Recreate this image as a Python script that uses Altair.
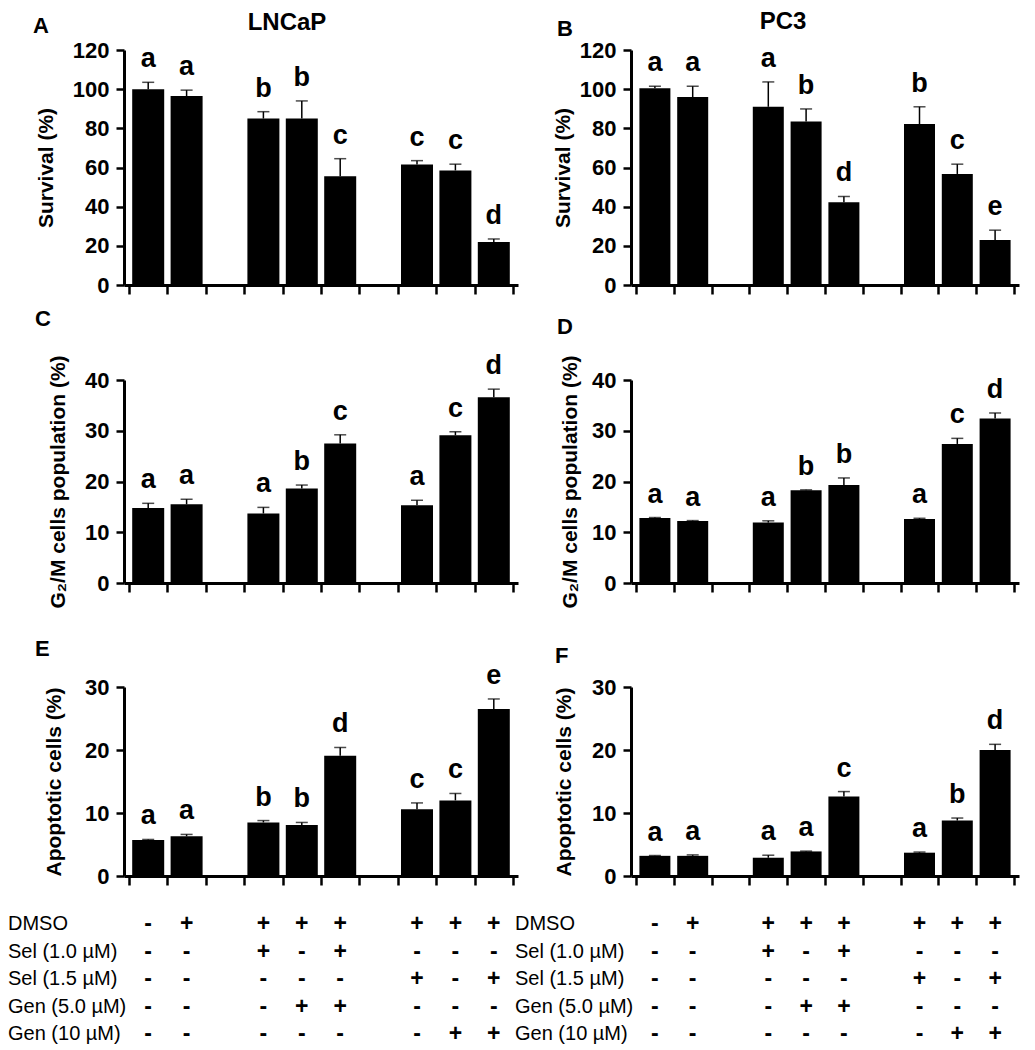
import altair as alt
import pandas as pd

FONT = "Liberation Sans"

# ---------------- data ----------------
positions = [1, 2, 4, 5, 6, 8, 9, 10]
boundaries = [0.5 + i for i in range(11)]

cell_lines = ["LNCaP", "PC3"]
panel_letters = ["A", "B", "C", "D", "E", "F"]
y_titles = ["Survival (%)", "G\u2082/M cells population (%)", "Apoptotic cells (%)"]
y_max = [120, 40, 30]
y_step = [20, 10, 10]

# Survival (%)
A_mean = [100, 96.5, 85, 85, 55.5, 61.5, 58.5, 22]
A_err = [3.5, 3, 3.5, 9, 9, 2, 3.2, 1.5]
A_sig = ["a", "a", "b", "b", "c", "c", "c", "d"]
B_mean = [100.5, 96, 91, 83.5, 42.2, 82.2, 56.7, 23]
B_err = [1, 5.5, 12.7, 6.4, 3, 8.8, 5, 5]
B_sig = ["a", "a", "a", "b", "d", "b", "c", "e"]
# G2/M cells population (%)
C_mean = [14.8, 15.5, 13.7, 18.6, 27.5, 15.3, 29.1, 36.6]
C_err = [0.9, 1.0, 1.2, 0.7, 1.7, 1.0, 0.7, 1.6]
C_sig = ["a", "a", "a", "b", "c", "a", "c", "d"]
D_mean = [12.8, 12.2, 11.9, 18.3, 19.3, 12.6, 27.4, 32.4]
D_err = [0.1, 0.1, 0.35, 0.05, 1.4, 0.15, 1.1, 1.1]
D_sig = ["a", "a", "a", "b", "b", "a", "c", "d"]
# Apoptotic cells (%)
E_mean = [5.7, 6.3, 8.5, 8.1, 19.1, 10.6, 12.0, 26.5]
E_err = [0.1, 0.3, 0.3, 0.4, 1.3, 1.0, 1.1, 1.6]
E_sig = ["a", "a", "b", "b", "d", "c", "c", "e"]
F_mean = [3.2, 3.2, 2.9, 3.9, 12.6, 3.7, 8.8, 20.0]
F_err = [0.05, 0.15, 0.4, 0.05, 0.8, 0.1, 0.4, 0.9]
F_sig = ["a", "a", "a", "a", "c", "a", "b", "d"]

# Treatment table
row_names = ["DMSO", "Sel (1.0 \u00b5M)", "Sel (1.5 \u00b5M)", "Gen (5.0 \u00b5M)", "Gen (10 \u00b5M)"]
DMSO = ["-", "+", "+", "+", "+", "+", "+", "+"]
Sel10 = ["-", "-", "+", "-", "+", "-", "-", "-"]
Sel15 = ["-", "-", "-", "-", "-", "+", "-", "+"]
Gen5 = ["-", "-", "-", "+", "+", "-", "-", "-"]
Gen10 = ["-", "-", "-", "-", "-", "-", "+", "+"]
table_rows = [DMSO, Sel10, Sel15, Gen5, Gen10]

# ---------------- layout (style) ----------------
heights = [235, 203, 198]
tops = [0, 0, 9]
widths = [394, 388]
bar_widths = [32, 31]


def panel(mean, err, sig, letter, letter_xy, r, c, title_pad, head=None, head_xy=None, table=False):
    height = heights[r]
    width = widths[c]
    df = pd.DataFrame({"pos": positions, "mean": mean, "err": err, "sig": sig})
    df["top"] = df["mean"] + df["err"]

    yvals = list(range(0, y_max[r] + 1, y_step[r]))
    xs = alt.Scale(domain=[0.5, 10.5], nice=False, zero=False)
    ys = alt.Scale(domain=[0, y_max[r]], range=[height, tops[r]], nice=False)
    xaxis = alt.Axis(values=boundaries, tickCount=len(boundaries), labels=False, title=None,
                     grid=False, tickSize=9, tickWidth=2.5, tickColor="black",
                     domainColor="black", domainWidth=3)
    yaxis = alt.Axis(values=yvals, tickCount=len(yvals), title=y_titles[r],
                     grid=False, tickSize=8, tickWidth=2.5, tickColor="black",
                     domainColor="black", domainWidth=3,
                     labelFont=FONT, labelFontSize=22, labelFontWeight="bold",
                     labelColor="black", labelPadding=7, labelOverlap=False,
                     titleFont=FONT, titleFontSize=21, titleFontWeight="bold",
                     titleColor="black", titlePadding=title_pad)
    base = alt.Chart(df)
    bars = base.mark_bar(color="black", size=bar_widths[c]).encode(
        x=alt.X("pos:Q", scale=xs, axis=xaxis),
        y=alt.Y("mean:Q", scale=ys, axis=yaxis),
    )
    rules = base.mark_rule(color="black", strokeWidth=1.5).encode(
        x="pos:Q", y="mean:Q", y2="top:Q"
    )
    caps = base.mark_tick(color="black", orient="horizontal", size=12, thickness=1.5).encode(
        x="pos:Q", y="top:Q"
    )
    sig_text = base.mark_text(font=FONT, fontSize=27, fontWeight="bold", color="black",
                              baseline="alphabetic", dy=-15).encode(
        x="pos:Q", y="top:Q", text="sig:N"
    )
    tag = alt.Chart(pd.DataFrame({"t": [letter]})).mark_text(
        font=FONT, fontSize=22, fontWeight="bold", color="black",
        align="left", baseline="alphabetic").encode(
        x=alt.value(letter_xy[0]), y=alt.value(letter_xy[1]), text="t:N")
    layers = [bars, rules, caps, sig_text, tag]
    if head is not None:
        hd = alt.Chart(pd.DataFrame({"t": [head]})).mark_text(
            font=FONT, fontSize=24, fontWeight="bold", color="black",
            align="center", baseline="alphabetic").encode(
            x=alt.value(head_xy[0]), y=alt.value(head_xy[1]), text="t:N")
        layers.append(hd)
    plot = alt.layer(*layers)
    if table:
        recs = []
        for name, vals in zip(row_names, table_rows):
            for p, s in zip(positions, vals):
                recs.append({"pos": p, "row": name, "sym": s})
        tdf = pd.DataFrame(recs)
        ty = alt.Y("row:N", scale=alt.Scale(domain=row_names, range=[height + 48, height + 158], padding=0),
                   axis=None)
        syms = alt.Chart(tdf).mark_text(font=FONT, fontSize=23, fontWeight="bold", color="black",
                                        baseline="middle").encode(
            x="pos:Q", y=ty, text="sym:N")
        labels = alt.Chart(pd.DataFrame({"row": row_names})).mark_text(
            font=FONT, fontSize=20, color="black", align="left", baseline="middle").encode(
            x=alt.value(-116), y=ty, text="row:N")
        plot = alt.layer(plot, alt.layer(syms, labels)).resolve_scale(y="independent")
    return plot.properties(width=width, height=height)


pA = panel(A_mean, A_err, A_sig, panel_letters[0], (-91, -17), 0, 0, 16, cell_lines[0], (163, -20))
pB = panel(B_mean, B_err, B_sig, panel_letters[1], (-74, -14), 0, 1, 6, cell_lines[1], (152, -21))
pC = panel(C_mean, C_err, C_sig, panel_letters[2], (-89, -54), 1, 0, 16)
pD = panel(D_mean, D_err, D_sig, panel_letters[3], (-74, -46), 1, 1, 11)
pE = panel(E_mean, E_err, E_sig, panel_letters[4], (-89, -22), 2, 0, 20, table=True)
pF = panel(F_mean, F_err, F_sig, panel_letters[5], (-76, -15), 2, 1, 17, table=True)

chart = alt.concat(
    pA, pB, pC, pD, pE, pF,
    columns=2,
    spacing={"row": 95, "column": 113},
    bounds="flush",
    align="each",
).properties(
    padding={"left": 0, "top": 2, "right": 5, "bottom": 5}
).configure_view(strokeWidth=0)

chart.save("out.html", embed_options={"renderer": "svg", "actions": False})
